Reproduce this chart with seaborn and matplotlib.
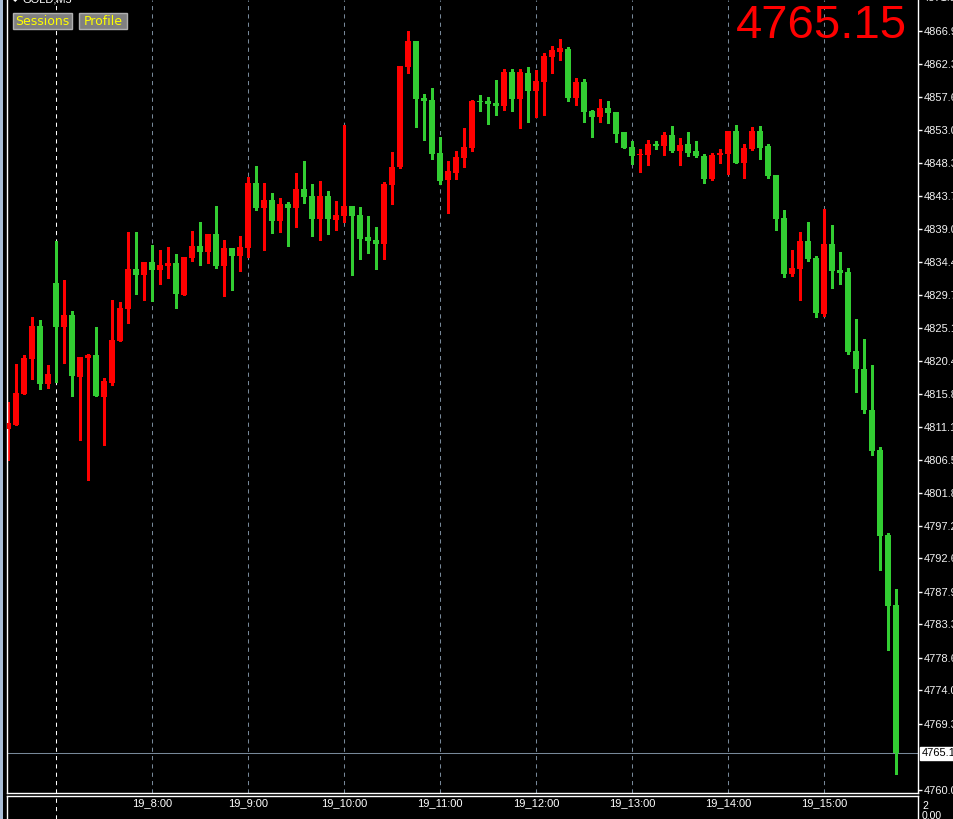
import matplotlib
matplotlib.use("Agg")
import matplotlib.pyplot as plt
from matplotlib.patches import Rectangle
import numpy as np
import pandas as pd
import seaborn as sns

# GOLD M5 candles, 19th, 06:30 -> 15:45
opens = [4810.82, 4811.39, 4815.75, 4820.69, 4825.34, 4817.16, 4831.40, 4825.20, 4826.89, 4818.15,
         4820.83, 4821.25, 4815.33, 4817.31, 4823.22, 4827.73, 4833.37, 4832.52, 4834.35, 4833.23,
         4833.79, 4834.21, 4829.70, 4834.92, 4836.61, 4835.76, 4838.30, 4833.79, 4836.33, 4835.20,
         4836.33, 4845.49, 4841.96, 4843.09, 4840.13, 4842.53, 4841.96, 4844.64, 4843.65, 4840.41,
         4843.65, 4840.27, 4840.84, 4842.24, 4840.98, 4837.88, 4837.45, 4836.89, 4845.20, 4847.74,
         4861.83, 4865.49, 4857.46, 4857.18, 4849.71, 4845.91, 4846.89, 4849.01, 4850.42, 4857.04,
         4857.04, 4856.76, 4856.33, 4861.13, 4857.32, 4860.98, 4858.45, 4859.72, 4863.24, 4863.94,
         4864.37, 4857.46, 4859.72, 4855.63, 4854.78, 4856.05, 4855.49, 4852.67, 4850.56, 4849.43,
         4849.43, 4850.98, 4850.70, 4852.25, 4849.99, 4850.98, 4849.99, 4849.29, 4846.05, 4849.43,
         4849.57, 4852.81, 4848.30, 4850.28, 4852.81, 4850.70, 4846.61, 4840.55, 4832.66, 4833.37,
         4837.31, 4834.92, 4827.03, 4836.89, 4833.23, 4832.95, 4821.81, 4819.28, 4813.50, 4807.86,
         4795.89, 4786.03]
highs = [4814.63, 4819.98, 4821.25, 4826.60, 4826.18, 4819.84, 4837.31, 4831.82, 4827.45, 4820.97,
         4821.39, 4825.20, 4818.01, 4829.00, 4828.72, 4838.58, 4838.58, 4834.35, 4836.75, 4836.05,
         4836.47, 4835.48, 4835.06, 4838.72, 4839.99, 4838.30, 4842.24, 4837.45, 4836.33, 4838.02,
         4846.33, 4847.88, 4845.49, 4844.08, 4843.37, 4842.81, 4846.89, 4848.59, 4845.34, 4845.77,
         4844.36, 4842.95, 4853.66, 4842.24, 4842.10, 4840.84, 4839.29, 4845.63, 4849.85, 4861.97,
         4866.90, 4865.49, 4858.03, 4858.87, 4851.97, 4848.59, 4849.99, 4853.23, 4857.18, 4857.88,
         4857.60, 4860.00, 4861.55, 4861.55, 4861.55, 4861.83, 4861.41, 4863.80, 4864.79, 4865.78,
         4864.65, 4860.28, 4860.14, 4855.77, 4857.32, 4857.04, 4855.49, 4852.67, 4851.40, 4850.28,
         4851.54, 4851.40, 4852.67, 4853.52, 4851.83, 4852.67, 4851.40, 4849.57, 4849.71, 4850.28,
         4852.81, 4853.66, 4850.98, 4853.38, 4853.52, 4850.98, 4846.61, 4841.68, 4836.05, 4838.58,
         4839.99, 4835.20, 4841.82, 4839.57, 4835.76, 4833.51, 4826.32, 4823.51, 4819.84, 4808.29,
         4796.17, 4788.28]
lows = [4806.46, 4811.39, 4815.75, 4817.87, 4816.46, 4816.60, 4817.45, 4820.12, 4815.47, 4809.27,
        4803.64, 4815.47, 4808.57, 4817.02, 4823.22, 4825.76, 4829.85, 4829.00, 4828.86, 4831.25,
        4832.10, 4827.87, 4829.70, 4834.50, 4833.93, 4834.21, 4833.51, 4829.56, 4830.41, 4833.09,
        4835.06, 4841.68, 4836.05, 4838.44, 4838.58, 4836.61, 4839.29, 4842.67, 4838.02, 4837.45,
        4838.30, 4838.86, 4839.99, 4832.52, 4834.78, 4835.62, 4833.37, 4834.78, 4842.53, 4847.60,
        4860.98, 4853.38, 4851.54, 4848.87, 4845.34, 4841.26, 4846.05, 4847.74, 4849.99, 4855.63,
        4853.80, 4855.07, 4855.77, 4855.63, 4853.23, 4854.08, 4854.78, 4855.07, 4860.98, 4862.82,
        4857.04, 4856.48, 4854.08, 4851.97, 4854.08, 4853.94, 4851.26, 4850.42, 4848.16, 4847.03,
        4848.02, 4850.28, 4849.43, 4849.85, 4848.02, 4849.29, 4849.15, 4845.49, 4845.91, 4848.30,
        4846.75, 4848.30, 4846.19, 4850.14, 4848.87, 4846.19, 4838.86, 4832.24, 4832.38, 4829.00,
        4834.50, 4826.60, 4826.75, 4830.69, 4831.25, 4821.39, 4816.04, 4813.08, 4807.16, 4790.96,
        4779.69, 4762.21]
closes = [4811.67, 4815.90, 4820.83, 4825.34, 4817.16, 4818.57, 4825.20, 4826.89, 4818.29, 4820.97,
          4821.25, 4815.47, 4817.59, 4823.36, 4827.87, 4833.37, 4832.52, 4834.35, 4833.23, 4833.93,
          4834.21, 4829.85, 4835.06, 4836.61, 4835.76, 4838.30, 4833.79, 4836.33, 4835.20, 4836.47,
          4845.49, 4841.96, 4843.09, 4840.13, 4842.53, 4841.96, 4844.64, 4843.51, 4840.41, 4843.65,
          4840.41, 4840.98, 4842.24, 4840.84, 4837.60, 4837.31, 4836.89, 4845.34, 4847.74, 4861.97,
          4865.49, 4857.32, 4857.04, 4849.57, 4845.77, 4847.18, 4849.15, 4850.56, 4857.04, 4856.90,
          4856.62, 4856.33, 4861.13, 4857.32, 4861.13, 4858.45, 4859.86, 4863.38, 4864.23, 4864.51,
          4857.46, 4859.72, 4855.49, 4854.78, 4856.05, 4855.35, 4852.39, 4850.42, 4849.29, 4849.57,
          4850.98, 4850.70, 4852.25, 4849.99, 4850.84, 4849.71, 4849.29, 4846.05, 4849.43, 4849.71,
          4852.81, 4848.30, 4850.42, 4852.81, 4850.42, 4846.47, 4840.41, 4832.66, 4833.51, 4837.31,
          4834.78, 4827.17, 4836.89, 4833.09, 4832.80, 4821.67, 4819.28, 4813.50, 4807.72, 4795.75,
          4785.88, 4765.15]

price_ticks = [4866.90, 4862.30, 4857.60, 4853.00, 4848.30, 4843.70, 4839.00, 4834.40, 4829.70,
               4825.10, 4820.40, 4815.80, 4811.10, 4806.50, 4801.80, 4797.20, 4792.60, 4787.90,
               4783.30, 4778.60, 4774.00, 4769.30, 4760.00]
top_cut_tick = 4871.50
last_price = 4765.15
symbol = "GOLD,M5"
buttons = ["Sessions", "Profile"]
sub_labels = ["2", "0.00"]
first_bar = "2026-01-19 06:30"
session_hour = 7

UP = "#ff0000"      # bull candles are red on this chart
DOWN = "#32cd32"    # bear candles are green
GRID = "#778899"
W, H = 954, 819

sns.set_theme(style="dark", rc={"axes.facecolor": "black", "figure.facecolor": "black",
                                "axes.grid": False, "savefig.facecolor": "black"})
plt.rcParams["font.family"] = ["Liberation Sans", "DejaVu Sans"]

df = pd.DataFrame({"open": opens, "high": highs, "low": lows, "close": closes})
df["time"] = pd.date_range(first_bar, periods=len(df), freq="5min")
df["pos"] = np.arange(len(df))
df["color"] = np.where(df["close"] >= df["open"], UP, DOWN)
df["bottom"] = df[["open", "close"]].min(axis=1)
df["body"] = (df["close"] - df["open"]).abs().clip(lower=0.14)

fig = plt.figure(figsize=(W / 100, H / 100), dpi=100)
ax = fig.add_axes([7 / W, 26 / H, 911 / W, 793 / H])
sub = fig.add_axes([7 / W, 0, 911 / W, 23 / H], sharex=ax)

for a in (ax, sub):
    a.set_facecolor("black")
    for s in ("left", "right", "top", "bottom"):
        a.spines[s].set_color("white")
        a.spines[s].set_linewidth(1.0)
sub.spines["bottom"].set_visible(False)
ax.spines["top"].set_visible(False)

# hour separators
hours = df[df["time"].dt.minute == 0]
for _, r in hours.iterrows():
    if r["time"].hour == session_hour:
        for a in (ax, sub):
            a.axvline(r["pos"], color="white", lw=0.75, ls=(0, (4, 4)), zorder=1)
    else:
        ax.axvline(r["pos"], color=GRID, lw=0.75, ls=(0, (4, 4)), zorder=1)
        sub.text(r["pos"], 0.68, r["time"].strftime("%d_%-H:%M"), color="white",
                 fontsize=8, ha="center", va="center", transform=sub.get_xaxis_transform())

ax.axhline(last_price, color=GRID, lw=0.75, zorder=1)

# candles
ax.vlines(df["pos"], df["low"], df["high"], colors=df["color"], lw=0.9, zorder=2,
          antialiased=False)
ax.bar(df["pos"], df["body"], bottom=df["bottom"], width=0.64, color=df["color"],
       linewidth=0, zorder=3, antialiased=False)

ax.set_xlim(-0.125, 113.75)
ax.set_ylim(4759.54, 4871.27)
ax.set_xticks([])
sub.set_yticks([])
sub.set_ylim(0, 1)
ax.tick_params(axis="x", bottom=False, labelbottom=False)
sub.tick_params(axis="x", bottom=False, labelbottom=False)

ax.yaxis.tick_right()
ax.set_yticks(price_ticks)
ax.set_yticklabels([f"{v:.2f}" for v in price_ticks])
ax.tick_params(axis="y", colors="white", labelcolor="#f2f2f2", length=3, width=1,
               pad=1.5, labelsize=8, left=False)

# current price tag on the scale and the partly hidden top label
ax.annotate(f"{last_price:.2f}", xy=(1, last_price), xycoords=("axes fraction", "data"),
            xytext=(2.5, 0), textcoords="offset points", ha="left", va="center",
            fontsize=8, color="black", annotation_clip=False,
            bbox=dict(boxstyle="square,pad=0.12", fc="white", ec="white"))
ax.annotate(f"{top_cut_tick:.2f}", xy=(1, top_cut_tick), xycoords=("axes fraction", "data"),
            xytext=(3.2, 0), textcoords="offset points", ha="left", va="center",
            fontsize=8, color="#f2f2f2", annotation_clip=False)

fig.text(922 / W, 1 - 806 / H, sub_labels[0], color="white", fontsize=7.5, va="center")
fig.text(922 / W, 1 - 816 / H, sub_labels[1], color="white", fontsize=7.5, va="center")

# big last price
fig.text(907 / W, 1 - 26 / H, f"{last_price:.2f}", color=UP, fontsize=34,
         ha="right", va="center")

# left frame strip
fig.patches.append(Rectangle((0, 0), 3.5 / W, 1, transform=fig.transFigure,
                             fc="#a9bdd6", ec="none"))

# symbol caption, cut by the top edge
fig.text(12 / W, 1 + 1 / H, "\u25c6", color="white", fontsize=6, va="center",
         family="DejaVu Sans")
fig.text(23 / W, 1 + 1 / H, symbol, color="white", fontsize=8, va="center")

# buttons
for (x0, x1), label in zip([(13, 72), (79, 127)], buttons):
    fig.patches.append(Rectangle((x0 / W, 1 - 29 / H), (x1 - x0) / W, 16 / H,
                                 transform=fig.transFigure, fc="#808080", ec="#b0b0b0", lw=1))
    fig.text((x0 + x1) / 2 / W, 1 - 21.5 / H, label, color="#ffff00", fontsize=9,
             ha="center", va="center", family="DejaVu Sans")

fig.savefig("out.png", dpi=100, facecolor="black")
